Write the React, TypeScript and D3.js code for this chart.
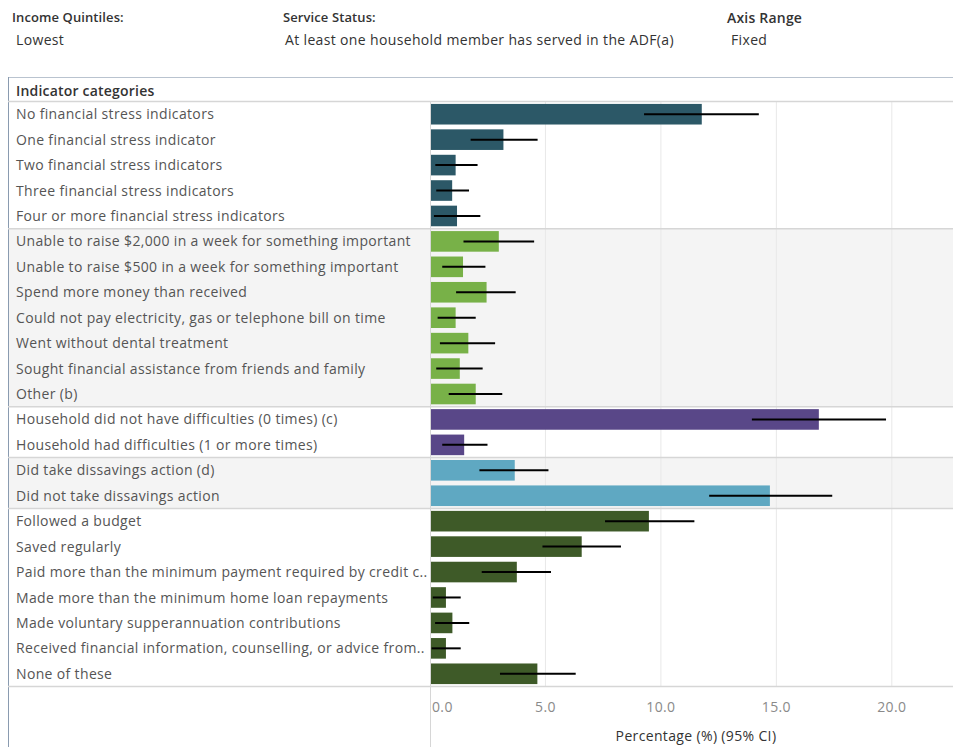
import * as d3 from "d3";

// Indicator categories, in display order
const categories = [
  "No financial stress indicators",
  "One financial stress indicator",
  "Two financial stress indicators",
  "Three financial stress indicators",
  "Four or more financial stress indicators",
  "Unable to raise $2,000 in a week for something important",
  "Unable to raise $500 in a week for something important",
  "Spend more money than received",
  "Could not pay electricity, gas or telephone bill on time",
  "Went without dental treatment",
  "Sought financial assistance from friends and family",
  "Other (b)",
  "Household did not have difficulties (0 times) (c)",
  "Household had difficulties (1 or more times)",
  "Did take dissavings action (d)",
  "Did not take dissavings action",
  "Followed a budget",
  "Saved regularly",
  "Paid more than the minimum payment required by credit c..",
  "Made more than the minimum home loan repayments",
  "Made voluntary supperannuation contributions",
  "Received financial information, counselling, or advice from..",
  "None of these",
];

// Group each category belongs to
const groupOf = [0, 0, 0, 0, 0, 1, 1, 1, 1, 1, 1, 1, 2, 2, 3, 3, 4, 4, 4, 4, 4, 4, 4];

// Percentage estimates and 95% CI bounds
const values = [11.77, 3.18, 1.11, 0.96, 1.17, 2.98, 1.43, 2.45, 1.11, 1.66, 1.29, 1.98, 16.84, 1.48, 3.67, 14.72, 9.48, 6.57, 3.76, 0.69, 0.97, 0.69, 4.65];
const ciLow = [9.27, 1.76, 0.23, 0.27, 0.17, 1.45, 0.53, 1.13, 0.33, 0.43, 0.27, 0.81, 13.94, 0.53, 2.14, 12.09, 7.58, 4.87, 2.24, 0.12, 0.22, 0.07, 3.03];
const ciHigh = [14.24, 4.66, 2.06, 1.69, 2.18, 4.51, 2.4, 3.71, 1.98, 2.82, 2.28, 3.13, 19.75, 2.49, 5.13, 17.42, 11.45, 8.27, 5.24, 1.33, 1.7, 1.33, 6.31];

const groupColors = ["#2c5867", "#78b148", "#594788", "#5fa8c2", "#3e5a28"];
const groupShaded = [false, true, false, true, false];

const xTicks = [0, 5, 10, 15, 20];

const W = 953;
const H = 747;

export default function App() {
  const left = 8;
  const axisX = 430;
  const rowsTop = 101.5;
  const rowsBottom = 686.5;

  const x = d3.scaleLinear().domain([0, 22.65]).range([axisX, W]);
  const y = d3
    .scaleBand<number>()
    .domain(d3.range(categories.length))
    .range([rowsTop, rowsBottom]);
  const step = y.step();
  const barH = step * 0.81;

  // group extents
  const groups = d3.groups(d3.range(categories.length), (i) => groupOf[i]);

  const font = "'Open Sans', 'Noto Sans', sans-serif";
  const ls = 0.35;

  return (
    <svg
      width={W}
      height={H}
      style={{ position: "absolute", left: 0, top: 0, background: "#fff" }}
      fontFamily={font}
    >
      {/* filter header */}
      <g fill="#333">
        <text x={12} y={22} fontWeight={600} fontSize={13} letterSpacing={0.1}>
          Income Quintiles:
        </text>
        <text x={16} y={45} fontSize={14} letterSpacing={ls}>Lowest</text>
        <text x={283} y={22} fontWeight={600} fontSize={13} letterSpacing={0.1}>Service Status:</text>
        <text x={285} y={45} fontSize={14} letterSpacing={ls}>
          At least one household member has served in the ADF(a)
        </text>
        <text x={727} y={23} fontWeight={600} fontSize={14} letterSpacing={0.2}>Axis Range</text>
        <text x={731} y={45} fontSize={14} letterSpacing={ls}>Fixed</text>
      </g>

      {/* group backgrounds */}
      {groups.map(([g, idx]) => {
        const y0 = y(idx[0])!;
        const y1 = y(idx[idx.length - 1])! + step;
        return groupShaded[g] ? (
          <rect key={"bg" + g} x={left} y={y0} width={W - left} height={y1 - y0} fill="#f4f4f4" />
        ) : null;
      })}

      {/* vertical gridlines */}
      {xTicks.slice(1).map((t) => (
        <line key={"g" + t} x1={x(t)} x2={x(t)} y1={rowsTop} y2={rowsBottom} stroke="#e8e8e8" />
      ))}

      {/* frame */}
      <line x1={left} x2={W} y1={77.5} y2={77.5} stroke="#b9c3cf" />
      <line x1={left + 0.5} x2={left + 0.5} y1={77} y2={H} stroke="#8a9bb0" />
      <text x={16} y={96} fontSize={14} fontWeight={600} fill="#333" letterSpacing={0.2}>
        Indicator categories
      </text>
      <line x1={left} x2={W} y1={rowsTop} y2={rowsTop} stroke="#d6d6d6" strokeWidth={1.5} />

      {/* group separators */}
      {groups.slice(1).map(([g, idx]) => (
        <line key={"s" + g} x1={left} x2={W} y1={y(idx[0])} y2={y(idx[0])} stroke="#d6d6d6" strokeWidth={1.5} />
      ))}
      <line x1={left} x2={W} y1={rowsBottom} y2={rowsBottom} stroke="#d6d6d6" strokeWidth={1.5} />

      {/* category labels */}
      {categories.map((c, i) => (
        <text key={"l" + i} x={16} y={y(i)! + step / 2} dy="0.36em" fontSize={14} letterSpacing={ls} fill="#555">
          {c}
        </text>
      ))}

      {/* bars */}
      {values.map((v, i) => (
        <rect
          key={"b" + i}
          x={x(0) + 1}
          y={y(i)! + (step - barH) / 2}
          width={x(v) - x(0) - 1}
          height={barH}
          fill={groupColors[groupOf[i]]}
        />
      ))}

      {/* confidence intervals */}
      {values.map((_, i) => (
        <line
          key={"e" + i}
          x1={x(ciLow[i])}
          x2={x(ciHigh[i])}
          y1={y(i)! + step / 2}
          y2={y(i)! + step / 2}
          stroke="#000"
          strokeWidth={2}
        />
      ))}

      {/* axis */}
      <line x1={axisX + 0.5} x2={axisX + 0.5} y1={rowsTop} y2={H} stroke="#d6d6d6" />
      {xTicks.map((t, i) => (
        <text
          key={"t" + t}
          x={i === 0 ? x(t) + 2 : x(t)}
          y={712}
          fontSize={14}
          letterSpacing={ls}
          fill="#8a8a8a"
          textAnchor={i === 0 ? "start" : "middle"}
        >
          {d3.format(".1f")(t)}
        </text>
      ))}
      <text x={696} y={741} fontSize={14} letterSpacing={ls} fill="#333" textAnchor="middle">
        Percentage (%) (95% CI)
      </text>
    </svg>
  );
}
